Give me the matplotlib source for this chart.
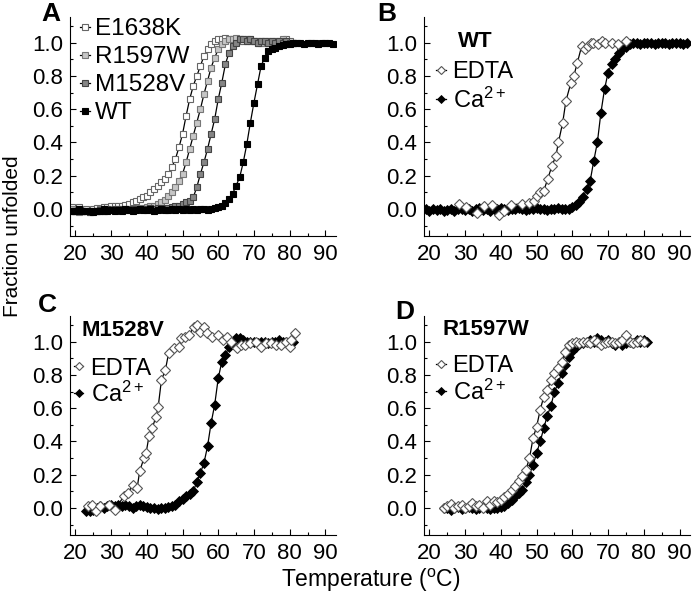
import numpy as np
import matplotlib
matplotlib.use("Agg")
import matplotlib.pyplot as plt
from matplotlib.ticker import MultipleLocator, FormatStrFormatter

plt.rcParams['font.family'] = ['Liberation Sans', 'DejaVu Sans']
plt.rcParams['mathtext.fontset'] = 'custom'
plt.rcParams['mathtext.rm'] = 'Liberation Sans'

# ---- panel A: all variants, Ca2+ ----
temp_a_wt = np.arange(19, 93)
wt_a = [-0.01, -0.01, 0.0, -0.01, -0.015, -0.01, -0.02, -0.01, -0.01, 0.0,
        -0.01, -0.005, -0.01, -0.005, -0.01, 0.0, -0.005, -0.01, -0.005, 0.0,
        -0.005, -0.005, 0.0, -0.01, -0.005, 0.0, -0.005, -0.005, 0.0, -0.005,
        0.0, -0.005, 0.0, -0.005, 0.0, -0.005, 0.0, 0.0, -0.005, 0.0,
        0.005, 0.01, 0.02, 0.035, 0.06, 0.09, 0.14, 0.19, 0.28, 0.39,
        0.52, 0.64, 0.75, 0.86, 0.91, 0.95, 0.96, 0.97, 0.98, 0.985,
        0.99, 0.995, 1.0, 1.0, 1.0, 0.995, 1.0, 1.0, 1.0, 0.995,
        1.0, 1.0, 1.0, 0.995]
temp_a_mut = np.arange(19, 82)
e1638k = [0.01, 0.0, 0.01, -0.01, 0.0, -0.01, 0.0, 0.005, 0.0, 0.01,
          0.01, 0.015, 0.015, 0.02, 0.02, 0.025, 0.03, 0.04, 0.05, 0.06,
          0.07, 0.08, 0.10, 0.12, 0.14, 0.16, 0.18, 0.21, 0.25, 0.30,
          0.37, 0.45, 0.56, 0.66, 0.74, 0.80, 0.86, 0.92, 0.96, 0.99,
          1.01, 1.02, 1.02, 1.03, 1.02, 1.02, 1.02, 1.01, 1.01, 1.02,
          1.01, 1.01, 1.0, 1.01, 1.0, 1.01, 1.0, 1.01, 1.0, 1.01,
          1.02, 1.01, 1.0]
r1597w = [0.0, -0.01, -0.02, -0.01, -0.01, -0.02, -0.01, -0.01, 0.0, -0.01,
          0.0, 0.0, -0.005, 0.0, 0.0, -0.005, 0.0, 0.0, 0.0, 0.005,
          0.005, 0.01, 0.015, 0.02, 0.03, 0.04, 0.055, 0.075, 0.10, 0.13,
          0.17, 0.21, 0.28, 0.36, 0.44, 0.52, 0.60, 0.69, 0.77, 0.85,
          0.91, 0.96, 0.99, 1.01, 1.02, 1.02, 1.03, 1.02, 1.02, 1.01,
          1.02, 1.01, 1.01, 1.0, 1.01, 1.0, 1.01, 1.0, 1.01, 1.02,
          1.01, 1.0, 1.0]
m1528v = [-0.01, -0.01, 0.0, -0.01, -0.01, -0.02, -0.01, -0.01, -0.005, -0.01,
          0.0, -0.005, 0.0, 0.0, -0.005, 0.0, 0.0, 0.0, 0.0, 0.0,
          0.0, 0.0, 0.005, 0.0, 0.005, 0.005, 0.005, 0.005, 0.01, 0.015,
          0.02, 0.03, 0.04, 0.05, 0.07, 0.13, 0.21, 0.28, 0.36, 0.45,
          0.54, 0.66, 0.76, 0.87, 0.94, 0.98, 1.0, 1.02, 1.02, 1.01,
          1.02, 1.01, 1.0, 1.01, 1.01, 1.0, 1.01, 1.0, 1.01, 1.0,
          1.01, 1.0, 1.0]

# ---- panel B: WT ----
temp_b_edta = [28.3, 30.2, 33.4, 35.3, 37.6, 39.5, 40.9, 42.7, 46.0, 47.8,
               49.2, 50.1, 51.0, 52.0, 53.1, 54.3, 55.4, 56.1, 57.3, 58.2,
               59.6, 60.4, 61.4, 62.6, 63.6, 64.5, 65.2, 65.9, 67.3, 68.2,
               69.1, 71.0, 72.8, 75.1]
b_edta = [0.03, 0.01, -0.025, 0.015, 0.025, -0.035, -0.015, 0.025, 0.03, 0.035,
          0.045, 0.075, 0.10, 0.11, 0.18, 0.26, 0.32, 0.40, 0.52, 0.65,
          0.76, 0.80, 0.88, 0.98, 0.96, 0.98, 1.0, 1.0, 0.99, 1.01,
          1.0, 1.0, 0.99, 1.01]
temp_b_ca = np.arange(19, 93)
b_ca = [0.0, -0.01, 0.0, -0.005, 0.0, -0.01, -0.005, 0.0, -0.01, 0.0,
        0.0, -0.005, 0.0, -0.01, 0.0, 0.005, -0.005, 0.0, -0.01, 0.0,
        0.0, 0.005, 0.0, -0.005, 0.0, 0.0, 0.005, 0.0, -0.005, 0.0,
        0.0, 0.005, 0.0, 0.0, -0.005, 0.0, 0.0, 0.005, 0.0, 0.0,
        0.0, 0.01, 0.025, 0.04, 0.07, 0.12, 0.17, 0.29, 0.40, 0.58,
        0.72, 0.82, 0.87, 0.90, 0.94, 0.96, 0.975, 0.99, 1.0, 1.0,
        0.995, 1.0, 1.0, 1.0, 0.995, 1.0, 1.0, 1.0, 0.995, 1.0,
        1.0, 1.0, 0.995, 1.0]

# ---- panel C: M1528V ----
temp_c_edta = [23.5, 24.6, 25.8, 27.0, 29.5, 31.0, 33.6, 34.8, 36.1, 37.3,
               38.0, 39.2, 39.8, 40.6, 41.5, 42.6, 43.2, 44.1, 45.2, 46.1,
               47.5, 48.9, 49.7, 50.6, 51.9, 53.1, 54.0, 54.9, 55.9, 56.8,
               58.2, 60.0, 61.4, 62.4, 63.6, 65.2, 66.3, 67.5, 69.0, 70.5,
               72.1, 73.5, 74.9, 76.3, 77.6, 79.0, 80.0, 80.4, 81.4]
c_edta = [0.01, 0.02, -0.02, 0.01, 0.02, -0.01, 0.07, 0.09, 0.14, 0.12,
          0.22, 0.30, 0.33, 0.43, 0.48, 0.55, 0.61, 0.77, 0.83, 0.93,
          0.96, 0.97, 1.02, 1.03, 1.04, 1.09, 1.10, 1.06, 1.09, 1.05,
          1.03, 1.04, 1.01, 1.03, 1.0, 0.96, 0.98, 0.98, 0.99, 1.0,
          0.97, 0.99, 0.99, 0.98, 0.98, 1.0, 0.97, 1.01, 1.05]
temp_c_ca = np.arange(23, 82)
c_ca = [-0.02, -0.02, -0.01, 0.0, 0.01, 0.0, 0.01, 0.02, 0.01, 0.02,
        0.01, 0.015, 0.01, 0.0, 0.01, 0.015, 0.01, 0.005, 0.0, 0.0,
        -0.005, 0.0, 0.0, 0.005, 0.01, 0.016, 0.04, 0.055, 0.07, 0.085,
        0.10, 0.156, 0.21, 0.27, 0.37, 0.51, 0.62, 0.78, 0.88, 0.92,
        0.97, 1.0, 1.02, 1.02, 1.01, 1.0, 1.0, 1.0, 0.99, 1.0,
        1.0, 0.99, 1.0, 1.0, 1.01, 1.0, 1.0, 1.0, 1.0]

# ---- panel D: R1597W ----
temp_d = np.arange(24, 81)
d_edta = [0.0, 0.01, 0.025, 0.0, 0.01, 0.02, 0.0, 0.01, 0.03, 0.01,
          0.02, 0.0, 0.04, 0.02, 0.04, 0.035, 0.05, 0.065, 0.085, 0.11,
          0.13, 0.16, 0.19, 0.23, 0.30, 0.42, 0.49, 0.59, 0.67, 0.71,
          0.77, 0.81, 0.84, 0.88, 0.94, 0.98, 0.99, 1.0, 0.99, 1.0,
          1.0, 0.99, 1.01, 1.0, 0.98, 0.99, 1.0, 1.0, 0.99, 1.0,
          1.01, 1.04, 1.0, 0.99, 1.0, 1.01, 1.0]
temp_d_ca = np.arange(24, 82)
d_ca = [0.0, 0.0, -0.01, 0.0, 0.005, -0.005, 0.0, 0.005, 0.0, -0.005,
        0.0, 0.005, 0.0, -0.005, 0.0, 0.0, 0.005, 0.01, 0.03, 0.05,
        0.07, 0.09, 0.11, 0.155, 0.20, 0.26, 0.33, 0.40, 0.48, 0.556,
        0.615, 0.70, 0.75, 0.81, 0.86, 0.91, 0.945, 0.97, 0.985, 0.99,
        1.0, 1.01, 1.0, 1.02, 1.01, 1.0, 1.01, 0.99, 0.98, 1.0,
        0.98, 0.99, 1.0, 0.99, 1.01, 1.0, 1.01, 1.0]

TICK_FS = 16
LEG_FS = 17
CA_LABEL = 'Ca$\\mathregular{^{2+}}$'


def style_axes(ax):
    ax.set_xlim(18.5, 93)
    ax.set_ylim(-0.163, 1.155)
    ax.spines['top'].set_visible(False)
    ax.spines['right'].set_visible(False)
    ax.set_xticks([20, 30, 40, 50, 60, 70, 80, 90])
    ax.xaxis.set_minor_locator(MultipleLocator(5))
    ax.set_yticks([0.0, 0.2, 0.4, 0.6, 0.8, 1.0])
    ax.yaxis.set_minor_locator(MultipleLocator(0.1))
    ax.yaxis.set_major_formatter(FormatStrFormatter('%.1f'))
    ax.tick_params(which='both', direction='in', labelsize=TICK_FS, width=0.8)
    ax.tick_params(which='major', length=4)
    ax.tick_params(which='minor', length=2.5)
    ax.tick_params(axis='x', pad=6)
    ax.tick_params(axis='y', pad=5)


def diamond_panel(ax, t_edta, y_edta, t_ca, y_ca, title, title_xy, leg_xy, spacing):
    ca, = ax.plot(t_ca, y_ca, '-', color='black', lw=0.9, marker='D', ms=5,
                  mfc='black', mec='black', mew=0.6, label=CA_LABEL)
    edta, = ax.plot(t_edta, y_edta, '-', color='black', lw=0.9, marker='D', ms=5,
                    mfc='white', mec='#555555', mew=0.8, label='EDTA')
    ax.legend(handles=[edta, ca], loc='upper left', bbox_to_anchor=leg_xy,
              frameon=False, fontsize=LEG_FS, handlelength=0.4, handletextpad=0.3,
              labelspacing=spacing, borderpad=0, borderaxespad=0,
              markerscale=0.9)
    ax.text(title_xy[0], title_xy[1], title, transform=ax.transAxes, fontsize=16,
            fontweight='bold', va='center', ha='left')
    style_axes(ax)


fig = plt.figure(figsize=(6.93, 6.01), dpi=100)
w, h = 0.384, 0.3644
ax_a = fig.add_axes([0.101, 0.6073, w, h])
ax_b = fig.add_axes([0.612, 0.6073, w, h])
ax_c = fig.add_axes([0.101, 0.1098, w, h])
ax_d = fig.add_axes([0.612, 0.1098, w, h])

# panel A
series_a = [
    (temp_a_mut, e1638k, 'white', '#666666', 'E1638K'),
    (temp_a_mut, r1597w, '#c6c6c6', '#777777', 'R1597W'),
    (temp_a_mut, m1528v, '#858585', '#444444', 'M1528V'),
    (temp_a_wt, wt_a, 'black', 'black', 'WT'),
]
for t, y, fc, ec, name in series_a:
    ax_a.plot(t, y, '-', color='black', lw=0.9, marker='s', ms=5,
              mfc=fc, mec=ec, mew=0.8, label=name)
ax_a.legend(loc='upper left', bbox_to_anchor=(0.038, 0.995), frameon=False,
            fontsize=17.5, handlelength=0.4, handletextpad=0.22,
            labelspacing=0.25, borderpad=0, borderaxespad=0, markerscale=0.85)
style_axes(ax_a)

diamond_panel(ax_b, temp_b_edta, b_edta, temp_b_ca, b_ca, 'WT',
              (0.128, 0.89), (0.045, 0.80), 0.2)
diamond_panel(ax_c, temp_c_edta, c_edta, temp_c_ca, c_ca, 'M1528V',
              (0.045, 0.936), (0.015, 0.81), 0.08)
diamond_panel(ax_d, temp_d, d_edta, temp_d_ca, d_ca, 'R1597W',
              (0.068, 0.94), (0.045, 0.82), 0.08)

# panel letters
for x, y, s in [(0.073, 0.977, 'A'), (0.558, 0.977, 'B'),
                (0.068, 0.493, 'C'), (0.584, 0.481, 'D')]:
    fig.text(x, y, s, fontsize=19, fontweight='bold', ha='center', va='center')

fig.text(0.018, 0.607, 'Fraction unfolded', rotation=90, fontsize=15,
         ha='center', va='center')
fig.text(0.535, 0.035, 'Temperature ($\\mathregular{^{o}}$C)', fontsize=16.5,
         ha='center', va='center')

fig.savefig('out.png', dpi=100)
